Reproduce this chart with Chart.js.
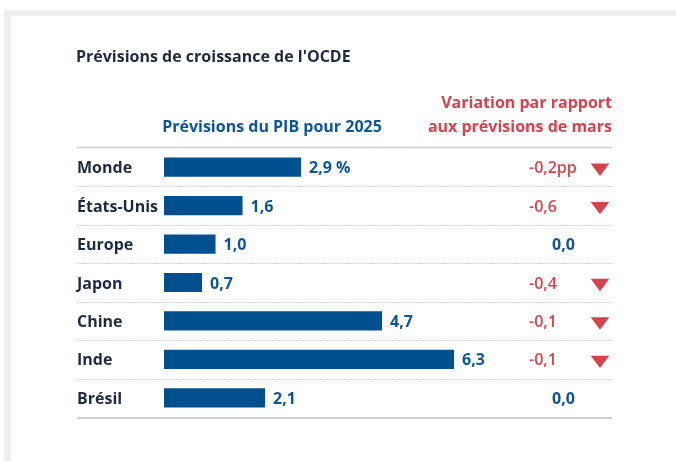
<!DOCTYPE html>
<html><head><meta charset="utf-8">
<script src="https://cdn.jsdelivr.net/npm/chart.js@4.4.0/dist/chart.umd.min.js"></script>
<style>html,body{margin:0;padding:0;background:#fff;}canvas{display:block;}</style>
</head><body>
<canvas id="c" width="676" height="461"></canvas>
<script>
const categories = ['Monde', 'États-Unis', 'Europe', 'Japon', 'Chine', 'Inde', 'Brésil'];
const gdp2025 = [2.9, 1.6, 1.0, 0.7, 4.7, 6.3, 2.1];
const changeVsMarch = [-0.2, -0.6, 0.0, -0.4, -0.1, -0.1, 0.0];
const titleText = "Prévisions de croissance de l'OCDE";
const gdpHeader = 'Prévisions du PIB pour 2025';
const changeHeader = ['Variation par rapport', 'aux prévisions de mars'];

const NAVY = '#1b2b42', BLUE = '#0e5598', BAR = '#00508f', RED = '#d3444c';
const FONT = '"Open Sans", "Noto Sans", sans-serif';
const fmt = v => v.toFixed(1).replace('.', ',');

const AXIS_MIN = -0.145;

const tablePlugin = {
  id: 'table',
  beforeDraw(chart) {
    const ctx = chart.ctx;
    ctx.save();
    ctx.fillStyle = '#ffffff';
    ctx.fillRect(0, 0, chart.width, chart.height);
    ctx.fillStyle = '#efefef';
    ctx.fillRect(4, 10, chart.width - 4, 6);
    ctx.fillRect(4, 10, 7, chart.height - 10);
    ctx.restore();
  },
  afterDatasetsDraw(chart) {
    const ctx = chart.ctx;
    const ys = chart.scales.y;
    const area = chart.chartArea;
    const L = 77, R = 612;
    ctx.save();
    // title
    ctx.fillStyle = NAVY;
    ctx.font = 'bold 16px ' + FONT;
    ctx.textAlign = 'left';
    ctx.textBaseline = 'middle';
    ctx.fillText(titleText, 76, 57);
    // headers
    ctx.fillStyle = BLUE;
    ctx.textAlign = 'center';
    ctx.fillText(gdpHeader, 272, 127);
    ctx.fillStyle = RED;
    ctx.textAlign = 'right';
    ctx.fillText(changeHeader[0], R, 103);
    ctx.fillText(changeHeader[1], R, 127);
    // top & bottom lines
    ctx.strokeStyle = '#cfcfcf';
    ctx.lineWidth = 1.5;
    ctx.beginPath(); ctx.moveTo(L, Math.round(area.top) - 0.5); ctx.lineTo(R, Math.round(area.top) - 0.5); ctx.stroke();
    ctx.lineWidth = 2;
    ctx.beginPath(); ctx.moveTo(L, Math.round(area.bottom) + 1); ctx.lineTo(R, Math.round(area.bottom) + 1); ctx.stroke();
    // dotted separators
    ctx.strokeStyle = '#d0d0d0';
    ctx.lineWidth = 1;
    ctx.setLineDash([2, 1]);
    for (let i = 0; i < categories.length - 1; i++) {
      const y = Math.round((ys.getPixelForValue(i) + ys.getPixelForValue(i + 1)) / 2) + 0.5;
      ctx.beginPath(); ctx.moveTo(L, y); ctx.lineTo(R, y); ctx.stroke();
    }
    ctx.setLineDash([]);
    // rows
    const meta = chart.getDatasetMeta(0);
    categories.forEach((c, i) => {
      const cy = ys.getPixelForValue(i);
      ctx.textAlign = 'left';
      ctx.textBaseline = 'alphabetic';
      ctx.fillStyle = NAVY;
      ctx.font = 'bold 16px ' + FONT;
      ctx.fillText(c, L, cy + 6);
      // value label
      const bar = meta.data[i];
      ctx.fillStyle = BLUE;
      ctx.fillText(fmt(gdp2025[i]) + (i === 0 ? ' %' : ''), bar.x + 8, cy + 6);
      // change
      const ch = changeVsMarch[i];
      if (ch < 0) {
        ctx.fillStyle = RED;
        ctx.font = '600 16px ' + FONT;
        ctx.fillText(fmt(ch) + (i === 0 ? 'pp' : ''), 529, cy + 6);
        ctx.beginPath();
        ctx.moveTo(590.7, cy - 3.7);
        ctx.lineTo(609.3, cy - 3.7);
        ctx.lineTo(600, cy + 8.7);
        ctx.closePath();
        ctx.fill();
      } else {
        ctx.fillStyle = BLUE;
        ctx.font = 'bold 16px ' + FONT;
        ctx.fillText(fmt(ch), 552, cy + 6);
      }
    });
    ctx.restore();
  }
};

new Chart(document.getElementById('c'), {
  type: 'bar',
  data: {
    labels: categories,
    datasets: [{
      data: gdp2025,
      backgroundColor: BAR,
      base: AXIS_MIN,
      barPercentage: 0.5,
      categoryPercentage: 1.0
    }]
  },
  options: {
    indexAxis: 'y',
    responsive: false,
    animation: false,
    devicePixelRatio: 1,
    layout: { padding: { left: 164, right: 64, top: 148, bottom: 44 } },
    plugins: { legend: { display: false }, tooltip: { enabled: false }, title: { display: false } },
    scales: {
      x: { display: false, min: AXIS_MIN, max: 9.81 },
      y: { display: false }
    }
  },
  plugins: [tablePlugin]
});
</script>
</body></html>
